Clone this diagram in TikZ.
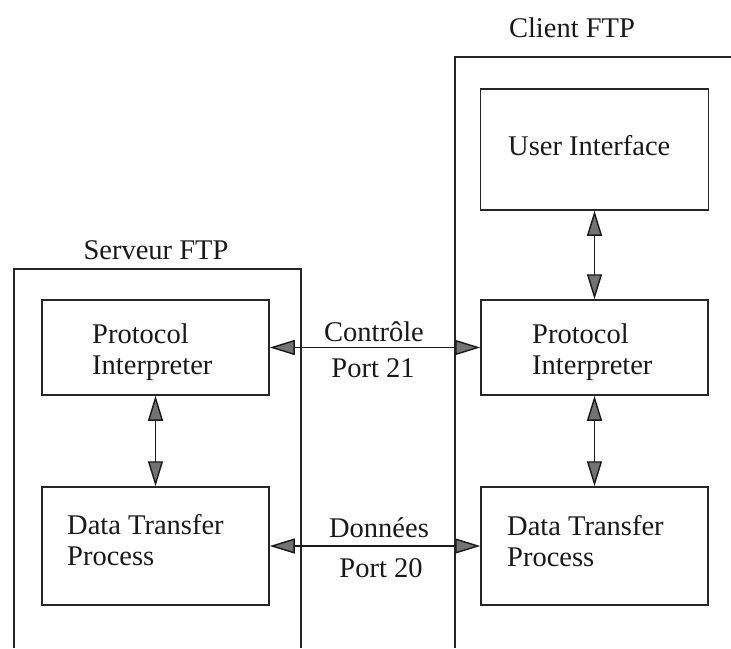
\documentclass[tikz,border=0pt]{standalone}
\usepackage{fontspec}
\setmainfont{Liberation Serif}
\usetikzlibrary{arrows.meta}
\tikzset{
  box/.style={draw=black!85, line width=1.5pt, inner sep=0pt, rectangle},
  outer/.style={draw=black!85, line width=1.4pt},
  lbl/.style={inner sep=0pt, font=\fontsize{28.5}{31}\selectfont, text=black!90, align=left},
  conn/.style={draw=black!90, line width=1.4pt,
    {Triangle[length=25pt,width=15pt,fill=black!55]}-{Triangle[length=25pt,width=15pt,fill=black!55]}},
}
\begin{document}
\begin{tikzpicture}[x=1pt,y=-1pt]
\useasboundingbox (0,0) rectangle (731,648);
% outer boxes
\draw[outer] (455,648) -- (455,57) -- (731,57);
\draw[outer] (14,648) -- (14,269) -- (301,269) -- (301,648);
% titles
\node[lbl] (tclient) at (572,28) {Client FTP};
\node[lbl] (tserver) at (156,250) {Serveur FTP};
% boxes
\node[box, minimum width=228pt, minimum height=121pt] (ui) at (594.5,149.5) {};
\node[box, minimum width=227pt, minimum height=95pt] (cpi) at (594.5,347.5) {};
\node[box, minimum width=227pt, minimum height=118pt] (cdtp) at (594.5,546) {};
\node[box, minimum width=227pt, minimum height=95pt] (spi) at (155.5,347.5) {};
\node[box, minimum width=227pt, minimum height=118pt] (sdtp) at (155.5,546) {};
% box texts
\node[lbl, anchor=west] (tui) at (508,146) {User Interface};
\node[lbl, anchor=west] (tcpi) at (532,352) {Protocol\\Interpreter};
\node[lbl, anchor=west] (tcdtp) at (507,541) {Data Transfer\\Process};
\node[lbl, anchor=west] (tspi) at (92,352) {Protocol\\Interpreter};
\node[lbl, anchor=west] (tsdtp) at (67,540) {Data Transfer\\Process};
% connectors
\draw[conn] (ui.south) -- (cpi.north);
\draw[conn] (cpi.south) -- (cdtp.north);
\draw[conn] (spi.south) -- (sdtp.north);
\draw[conn] (spi.east) -- (cpi.west);
\draw[conn] (sdtp.east) -- (cdtp.west);
% connector labels
\node[lbl] (lc) at (374,332) {Contrôle};
\node[lbl] (lp21) at (373,368) {Port 21};
\node[lbl] (ld) at (379,528) {Données};
\node[lbl] (lp20) at (381,568) {Port 20};
\end{tikzpicture}
\end{document}
